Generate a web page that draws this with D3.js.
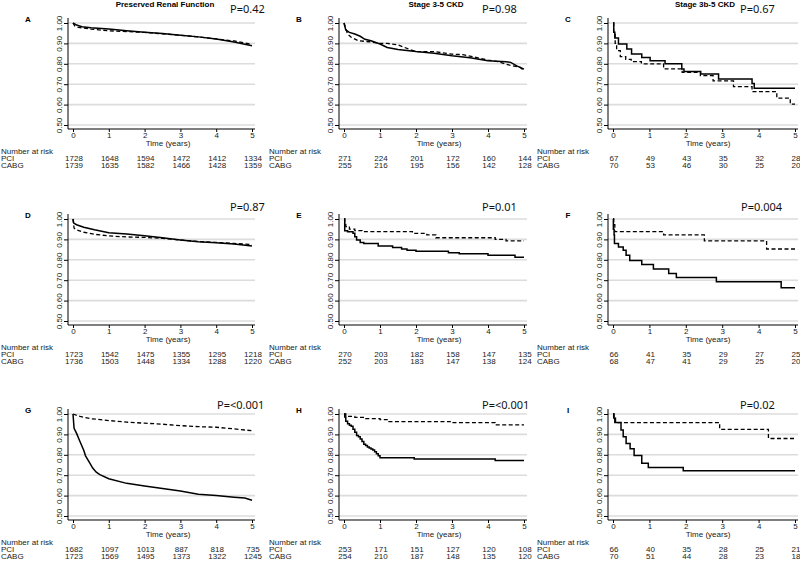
<!DOCTYPE html>
<html><head><meta charset="utf-8">
<script src="https://cdn.jsdelivr.net/npm/d3@7"></script>
<style>body{margin:0;background:#fff}svg{display:block}</style>
</head><body><svg id="c" width="800" height="561"></svg>
<script>
// ---------------- DATA ----------------
const panelIds = ["A","B","C","D","E","F","G","H","I"];
const columnTitles = ["Preserved Renal Function","Stage 3-5 CKD","Stage 3b-5 CKD"];
const pValues = ["P=0.42","P=0.98","P=0.67","P=0.87","P=0.01","P=0.004","P=<0.001","P=<0.001","P=0.02"];
const timeTicks = [0,1,2,3,4,5];
const survTicks = [0.5,0.6,0.7,0.8,0.9,1.0];
const groups = ["PCI","CABG"];
const riskPCI = [[1728,1648,1594,1472,1412,1334],[271,224,201,172,160,144],[67,49,43,35,32,28],
  [1723,1542,1475,1355,1295,1218],[270,203,182,158,147,135],[66,41,35,29,27,25],
  [1682,1097,1013,887,818,735],[253,171,151,127,120,108],[66,40,35,28,25,21]];
const riskCABG = [[1739,1635,1582,1466,1428,1359],[255,216,195,156,142,128],[70,53,46,30,25,20],
  [1736,1503,1448,1334,1288,1220],[252,203,183,147,138,124],[68,47,41,29,25,20],
  [1723,1569,1495,1373,1322,1245],[254,210,187,148,135,120],[70,51,44,28,23,18]];

const survA_PCI = [[0,1],[0.1,0.99],[0.25,0.982],[0.5,0.977],[1,0.97],[1.5,0.962],[2,0.955],[2.5,0.948],[3,0.94],[3.5,0.932],[4,0.921],[4.5,0.907],[5,0.888]];
const survA_CABG = [[0,1],[0.05,0.985],[0.15,0.978],[0.5,0.97],[1,0.962],[1.5,0.958],[2,0.954],[2.5,0.947],[3,0.94],[3.5,0.932],[4,0.922],[4.5,0.912],[5,0.896]];
const survB_PCI = [[0,1],[0.05,0.966],[0.15,0.954],[0.3,0.946],[0.45,0.935],[0.58,0.92],[0.75,0.913],[1,0.897],[1.2,0.88],[1.5,0.87],[2,0.86],[2.5,0.852],[3,0.84],[3.5,0.83],[4,0.815],[4.5,0.81],[4.63,0.807],[4.8,0.79],[5,0.774]];
const survB_CABG = [[0,1],[0.1,0.946],[0.2,0.93],[0.4,0.913],[0.7,0.908],[1,0.9],[1.2,0.9],[1.5,0.893],[1.8,0.872],[2,0.86],[2.5,0.86],[3,0.847],[3.3,0.845],[3.6,0.834],[4,0.818],[4.3,0.81],[4.6,0.793],[4.9,0.782],[5,0.766]];
const survC_PCI = [[0,1],[0.02,0.955],[0.05,0.926],[0.15,0.897],[0.38,0.872],[0.51,0.848],[0.79,0.831],[1.02,0.815],[1.43,0.8],[1.89,0.774],[1.95,0.762],[2.41,0.75],[2.9,0.725],[3.82,0.703],[3.88,0.68],[5,0.68]];
const survC_CABG = [[0,1],[0.02,0.95],[0.06,0.9],[0.1,0.865],[0.2,0.835],[0.35,0.822],[0.5,0.811],[0.78,0.8],[1.39,0.775],[1.9,0.758],[2.4,0.742],[2.75,0.716],[3.31,0.688],[3.82,0.664],[4.5,0.632],[4.87,0.602],[5,0.602]];
const survD_PCI = [[0,1],[0.02,0.98],[0.1,0.972],[0.3,0.96],[0.6,0.947],[1,0.933],[1.5,0.927],[2,0.918],[2.5,0.908],[3,0.897],[3.5,0.888],[4,0.883],[4.5,0.877],[5,0.868]];
const survD_CABG = [[0,1],[0.03,0.955],[0.1,0.947],[0.3,0.935],[0.6,0.925],[1,0.917],[1.5,0.912],[2,0.91],[2.5,0.905],[3,0.897],[3.5,0.89],[4,0.885],[4.5,0.88],[5,0.875]];
const survE_PCI = [[0,1],[0.02,0.943],[0.1,0.938],[0.25,0.93],[0.3,0.913],[0.35,0.897],[0.45,0.885],[0.55,0.88],[0.95,0.868],[1.35,0.86],[1.6,0.853],[1.75,0.847],[2.0,0.842],[2.9,0.835],[3.2,0.83],[4.0,0.822],[4.75,0.813],[5,0.813]];
const survE_CABG = [[0,1],[0.02,0.98],[0.05,0.963],[0.15,0.95],[0.3,0.943],[0.5,0.938],[1.9,0.93],[2.3,0.922],[2.55,0.908],[4.2,0.9],[4.5,0.893],[5,0.893]];
const survF_PCI = [[0,1],[0.01,0.95],[0.03,0.922],[0.04,0.88],[0.15,0.863],[0.28,0.847],[0.36,0.822],[0.46,0.797],[0.79,0.777],[1.11,0.755],[1.53,0.733],[1.74,0.713],[2.84,0.692],[4.62,0.663],[5,0.663]];
const survF_CABG = [[0,1],[0.02,0.972],[0.05,0.938],[1.39,0.922],[2.51,0.893],[4.22,0.853],[5,0.853]];
const survG_PCI = [[0,1],[0.03,0.93],[0.1,0.905],[0.2,0.863],[0.3,0.822],[0.35,0.795],[0.45,0.765],[0.55,0.735],[0.65,0.715],[0.75,0.703],[1,0.683],[1.5,0.66],[2,0.647],[2.5,0.635],[3,0.623],[3.5,0.607],[4,0.6],[4.5,0.592],[4.8,0.588],[5,0.577]];
const survG_CABG = [[0,1],[0.2,0.988],[0.5,0.977],[1,0.968],[1.5,0.96],[2,0.955],[2.5,0.95],[3,0.943],[3.5,0.938],[4,0.935],[4.5,0.927],[5,0.918]];
const survH_PCI = [[0,1],[0.02,0.985],[0.05,0.965],[0.1,0.952],[0.15,0.945],[0.2,0.94],[0.25,0.925],[0.3,0.91],[0.35,0.895],[0.4,0.888],[0.45,0.878],[0.5,0.865],[0.55,0.852],[0.6,0.845],[0.65,0.838],[0.7,0.833],[0.75,0.828],[0.8,0.823],[0.85,0.815],[0.9,0.805],[0.95,0.795],[1.0,0.785],[1.95,0.78],[4.2,0.772],[5,0.772]];
const survH_CABG = [[0,1],[0.05,0.988],[0.3,0.983],[0.6,0.977],[1.0,0.972],[1.25,0.963],[2.95,0.958],[4.2,0.947],[5,0.947]];
const survI_PCI = [[0,1],[0.02,0.98],[0.05,0.958],[0.22,0.922],[0.28,0.888],[0.36,0.855],[0.47,0.83],[0.58,0.797],[0.79,0.758],[0.97,0.738],[1.93,0.722],[5,0.722]];
const survI_CABG = [[0,1],[0.03,0.98],[0.07,0.958],[2.93,0.925],[4.27,0.88],[5,0.88]];

const survPCI = [survA_PCI,survB_PCI,survC_PCI,survD_PCI,survE_PCI,survF_PCI,survG_PCI,survH_PCI,survI_PCI];
const survCABG = [survA_CABG,survB_CABG,survC_CABG,survD_CABG,survE_CABG,survF_CABG,survG_CABG,survH_CABG,survI_CABG];
const smoothCurve = [true,true,false,true,false,false,true,false,false];

// ---------------- LAYOUT ----------------
const colX0 = [73,344,613], colW = [179,180,182], colLabelX = [1,269,537];
const rowY0 = [23,219,414], plotH = 102;
const pX = [230,482,740,230,482,741,217,482,740];
const pBase = [13,13,13,210.5,210.5,210.5,409,409,409];

const svg = d3.select("#c");
svg.append("rect").attr("width",800).attr("height",561).attr("fill","#fff");
const FONT = "'Liberation Sans', Arial, sans-serif";

panelIds.forEach((id,i)=>{
  const col = i%3, row = Math.floor(i/3);
  const x0 = colX0[col], y0 = rowY0[row], w = colW[col];
  const x = d3.scaleLinear().domain([0,5]).range([0,w]);
  const y = d3.scaleLinear().domain([0.5,1]).range([plotH,0]);
  const g = svg.append("g").attr("transform",`translate(${x0},${y0})`);
  const axL = -5, axB = plotH+4;

  // gridlines
  g.selectAll(".grid").data(survTicks).join("line")
    .attr("x1",axL).attr("x2",w+3).attr("y1",d=>y(d)).attr("y2",d=>y(d))
    .attr("stroke","#dcdcdc").attr("stroke-width",1.6);

  // y axis
  const ya = g.append("g").attr("transform",`translate(${axL},0)`)
    .call(d3.axisLeft(y).tickValues(survTicks).tickFormat(d3.format(".2f")).tickSize(4).tickSizeOuter(0));
  ya.select(".domain").attr("d",`M0,-5V${axB}`).attr("stroke","#000");
  ya.selectAll(".tick line").attr("stroke","#000");
  ya.selectAll(".tick text").attr("font-family",FONT).attr("font-size",8).attr("fill","#222")
    .attr("x",0).attr("dy",0).attr("transform","translate(-6,0) rotate(-90)")
    .attr("text-anchor","middle").attr("y",0);

  // x axis
  const xa = g.append("g").attr("transform",`translate(0,${axB})`)
    .call(d3.axisBottom(x).tickValues(timeTicks).tickFormat(d3.format("d")).tickSize(3).tickSizeOuter(0));
  xa.select(".domain").attr("d",`M${axL},0H${w+3}`).attr("stroke","#000");
  xa.selectAll(".tick line").attr("stroke","#000");
  xa.selectAll(".tick text").attr("font-family",FONT).attr("font-size",8).attr("fill","#222").attr("y",3).attr("dy","0.71em");

  g.append("text").attr("x",95).attr("y",axB+17).attr("text-anchor","middle")
    .attr("font-family",FONT).attr("font-size",8).attr("fill","#222").text("Time (years)");

  // curves
  const line = d3.line().x(d=>x(d[0])).y(d=>y(d[1]))
    .curve(smoothCurve[i] ? d3.curveLinear : d3.curveStepAfter);
  g.append("path").datum(survCABG[i]).attr("d",line).attr("fill","none")
    .attr("stroke","#000").attr("stroke-width",1.3).attr("stroke-dasharray","4,2.5");
  g.append("path").datum(survPCI[i]).attr("d",line).attr("fill","none")
    .attr("stroke","#000").attr("stroke-width",1.5);

  // panel letter
  g.append("text").attr("x",-45).attr("y",-1).attr("text-anchor","middle")
    .attr("font-family",FONT).attr("font-size",8).attr("font-weight","bold").text(id);

  // title
  if(row===0){
    svg.append("text").attr("x",x0+92).attr("y",6.5).attr("text-anchor","middle")
      .attr("font-family",FONT).attr("font-size",8).attr("font-weight","bold").text(columnTitles[col]);
  }
  // p value
  svg.append("text").attr("x",pX[i]).attr("y",pBase[i])
    .attr("font-family","'Noto Sans', sans-serif").attr("font-size",11).attr("fill","#111").text(pValues[i]);

  // number at risk
  const lx = colLabelX[col] - x0;
  const risk = g.append("g").attr("font-family",FONT).attr("font-size",8).attr("fill","#222");
  risk.append("text").attr("x",lx).attr("y",axB+25).text("Number at risk");
  [riskPCI[i], riskCABG[i]].forEach((arr,k)=>{
    const yy = axB+32+k*7;
    risk.append("text").attr("x",lx).attr("y",yy).text(groups[k]);
    risk.selectAll(null).data(arr).join("text")
      .attr("x",(d,j)=>x(timeTicks[j])+1).attr("y",yy).attr("text-anchor","middle").text(d=>d);
  });
});
</script></body></html>
